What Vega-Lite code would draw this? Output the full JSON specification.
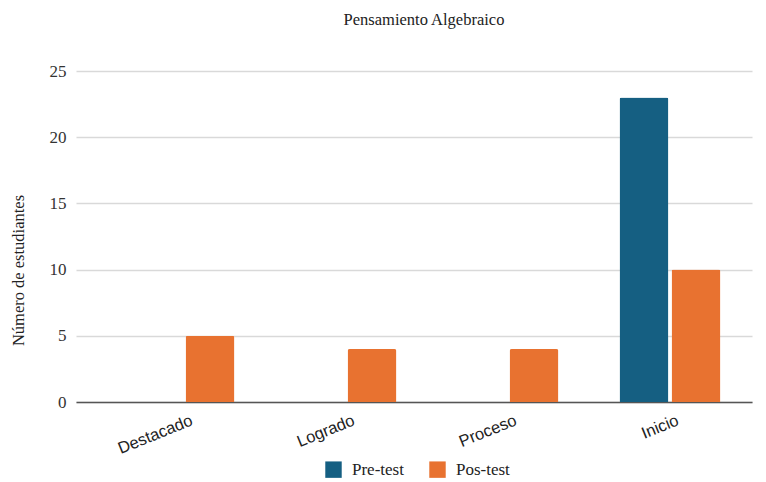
{
  "$schema": "https://vega.github.io/schema/vega-lite/v6.json",
  "autosize": "none",
  "width": 676,
  "height": 331,
  "padding": {"left": 76, "top": 71, "right": 14, "bottom": 80},
  "background": "white",
  "title": {
    "text": "Pensamiento Algebraico",
    "font": "Liberation Serif",
    "fontSize": 16.5,
    "fontWeight": "normal",
    "color": "#222222",
    "anchor": "middle",
    "dx": 10,
    "offset": 34
  },
  "data": {
    "values": [
      {"nivel": "Destacado", "prueba": "Pre-test", "n": 0},
      {"nivel": "Destacado", "prueba": "Pos-test", "n": 5},
      {"nivel": "Logrado", "prueba": "Pre-test", "n": 0},
      {"nivel": "Logrado", "prueba": "Pos-test", "n": 4},
      {"nivel": "Proceso", "prueba": "Pre-test", "n": 0},
      {"nivel": "Proceso", "prueba": "Pos-test", "n": 4},
      {"nivel": "Inicio", "prueba": "Pre-test", "n": 23},
      {"nivel": "Inicio", "prueba": "Pos-test", "n": 10}
    ]
  },
  "mark": {"type": "bar", "cornerRadiusTopLeft": 2, "cornerRadiusTopRight": 2},
  "encoding": {
    "x": {
      "field": "nivel",
      "type": "nominal",
      "sort": ["Destacado", "Logrado", "Proceso", "Inicio"],
      "scale": {"paddingInner": 0.377, "paddingOuter": 0.275, "align": 0.646},
      "axis": {
        "title": null,
        "labelAngle": -22,
        "labelAlign": "right",
        "labelBaseline": "top",
        "labelOffset": 5,
        "labelPadding": 10,
        "labelFont": "Liberation Sans",
        "labelFontSize": 16.5,
        "labelColor": "#222222",
        "ticks": false,
        "domainColor": "#555555",
        "domainWidth": 1.5
      }
    },
    "xOffset": {
      "field": "prueba",
      "type": "nominal",
      "sort": ["Pre-test", "Pos-test"],
      "scale": {"paddingInner": 0.06}
    },
    "y": {
      "field": "n",
      "type": "quantitative",
      "scale": {"domain": [0, 25]},
      "axis": {
        "values": [0, 5, 10, 15, 20, 25],
        "title": "Número de estudiantes",
        "titleFont": "Liberation Serif",
        "titleFontSize": 16.5,
        "titleFontWeight": "normal",
        "titleColor": "#222222",
        "titleAngle": -90,
        "titleAlign": "center",
        "titleBaseline": "middle",
        "titleX": -58,
        "titleY": 199,
        "labelFont": "Liberation Serif",
        "labelFontSize": 17,
        "labelColor": "#333333",
        "labelPadding": 10,
        "ticks": false,
        "domain": false,
        "gridColor": "#d9d9d9",
        "gridWidth": 1.5
      }
    },
    "color": {
      "field": "prueba",
      "type": "nominal",
      "sort": ["Pre-test", "Pos-test"],
      "scale": {"domain": ["Pre-test", "Pos-test"], "range": ["#155f82", "#e87230"]},
      "legend": {
        "title": null,
        "orient": "none",
        "direction": "horizontal",
        "legendX": 249,
        "legendY": 390,
        "symbolType": "square",
        "symbolSize": 270,
        "symbolStrokeWidth": 0,
        "labelFont": "Liberation Serif",
        "labelFontSize": 17,
        "labelColor": "#222222",
        "labelOffset": 10,
        "columnPadding": 25
      }
    }
  },
  "config": {"view": {"stroke": null}}
}
